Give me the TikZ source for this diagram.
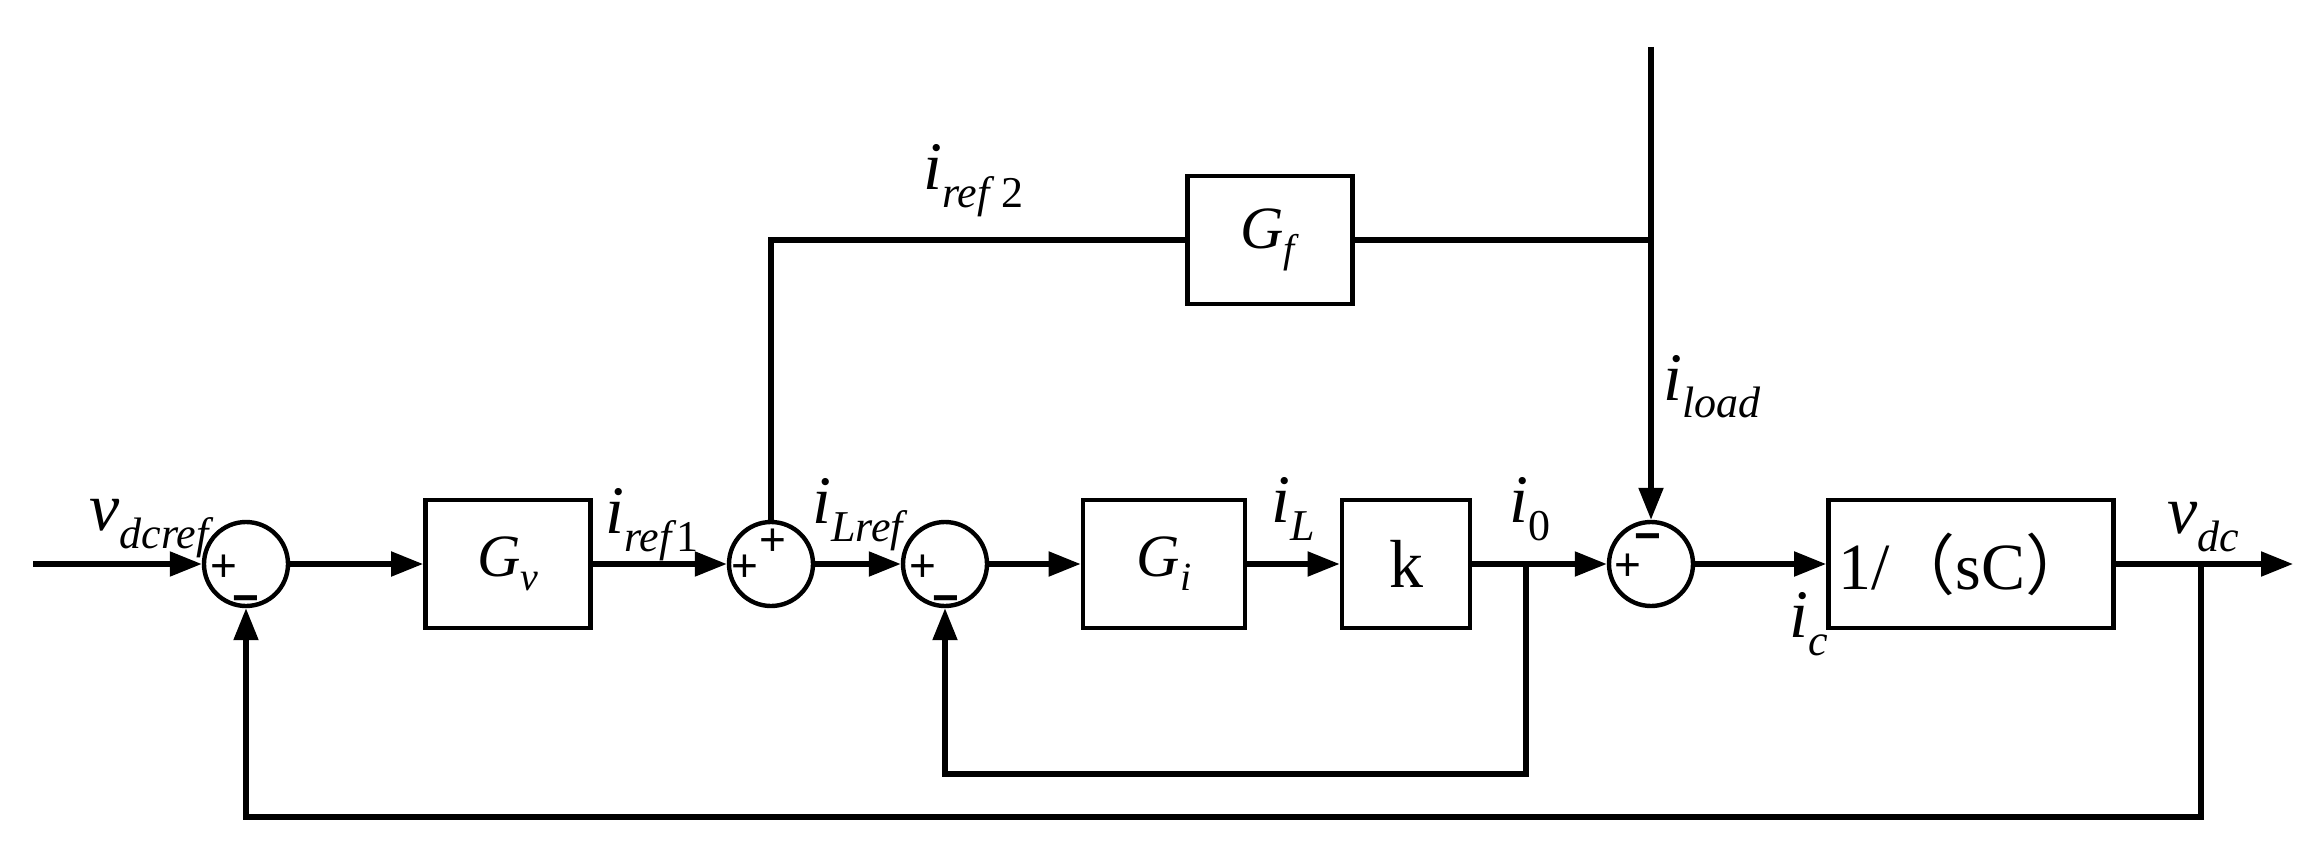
\documentclass[tikz,border=0pt]{standalone}
\usepackage{fontspec}
\setmainfont{Liberation Serif}
\newfontfamily\sgnfont{Liberation Sans}
\newfontfamily\cjk{Noto Sans CJK SC}
\usetikzlibrary{arrows.meta}
\newcommand{\sig}[2]{{\fontsize{34}{34}\selectfont\itshape #1}\raisebox{-9pt}{\fontsize{22}{22}\selectfont #2}}
\newcommand{\gsub}[1]{\textit{G}\raisebox{-7pt}{\fontsize{20}{20}\selectfont\textit{#1}}}
\begin{document}
\begin{tikzpicture}[x=0.5pt,y=-0.5pt,
  wire/.style={line width=2.6pt},
  arr/.style={wire,-{Triangle[length=16pt,width=12pt]}},
  blk/.style={draw,line width=2.4pt,minimum height=64pt,inner sep=0pt,font=\fontsize{30}{30}\selectfont},
  sumc/.style={draw,circle,line width=2.2pt,minimum size=42pt,inner sep=0pt},
  lab/.style={anchor=base west,inner sep=0pt},
  sgn/.style={anchor=base,inner sep=0pt,font=\sgnfont\fontsize{23}{23}\selectfont},
  msgn/.style={anchor=base,inner sep=0pt,font=\sgnfont\bfseries\fontsize{23}{23}\selectfont}]
\useasboundingbox (0,0) rectangle (2323,866);
% blocks
\node[sumc] (s1) at (246,564) {};
\node[blk,minimum width=82.5pt] (gv) at (508,564) {\gsub{v}};
\node[sumc] (s2) at (771,564) {};
\node[sumc] (s3) at (945,564) {};
\node[blk,minimum width=81pt] (gi) at (1164,564) {\gsub{i}};
\node[blk,minimum width=64pt,font=\fontsize{34}{34}\selectfont] (k) at (1406,564) {k};
\node[sumc] (s4) at (1651,564) {};
\node[blk,minimum width=142.5pt,font=\fontsize{33}{33}\selectfont] (pc) at (1971,564) {\hspace*{-6pt}1/{\cjk （}sC{\cjk ）}};
\node[blk,minimum width=82.5pt] (gf) at (1270,240) {\gsub{f}};
% signs
\node[sgn] (s1p) at (224,581) {+};
\node[msgn] (s1m) at (246,613) {−};
\node[sgn] (s2p) at (745,581) {+};
\node[sgn] (s2t) at (773,555) {+};
\node[sgn] (s3p) at (923,581) {+};
\node[msgn] (s3m) at (946,613) {−};
\node[sgn] (s4p) at (1628,580) {+};
\node[msgn] (s4m) at (1648,551) {−};
% coordinates
\coordinate (in) at (33,564);
\coordinate (out) at (2293,564);
\coordinate (t1) at (1526,564);
\coordinate (b1) at (1526,774);
\coordinate (t2) at (2201,564);
\coordinate (b2) at (2201,817);
\coordinate (jn) at (1651,240);
\coordinate (top) at (1651,47);
% connectors
\draw[arr] (in) -- (s1);
\draw[arr] (s1) -- (gv);
\draw[arr] (gv) -- (s2);
\draw[arr] (s2) -- (s3);
\draw[arr] (s3) -- (gi);
\draw[arr] (gi) -- (k);
\draw[arr] (k) -- (s4);
\draw[arr] (s4) -- (pc);
\draw[arr] (pc) -- (out);
\draw[arr] (t1) -- (b1) -| (s3.south);
\draw[arr] (t2) -- (b2) -| (s1.south);
\draw[arr] (top) -- (s4.north);
\draw[wire] (jn) -- (gf.east);
\draw[wire] (gf.west) -| (s2.north);
% labels
\node[lab] (lvdcref) at (89,530) {\sig{v}{\itshape dcref}};
\node[lab] (liref1) at (605,533) {\sig{i}{\textit{ref}1}};
\node[lab] (liLref) at (812,523) {\sig{i}{\itshape Lref}};
\node[lab] (liL) at (1271,522) {\sig{i}{\itshape L}};
\node[lab] (li0) at (1509,522) {\sig{i}{0}};
\node[lab] (liload) at (1663,400) {\sig{i}{\itshape load}};
\node[lab] (liref2) at (923,190) {\sig{i}{\textit{ref}\,2}};
\node[lab] (lic) at (1789,637) {\sig{i}{\itshape c}};
\node[lab] (lvdc) at (2167,533) {\sig{v}{\itshape dc}};
\end{tikzpicture}
\end{document}
